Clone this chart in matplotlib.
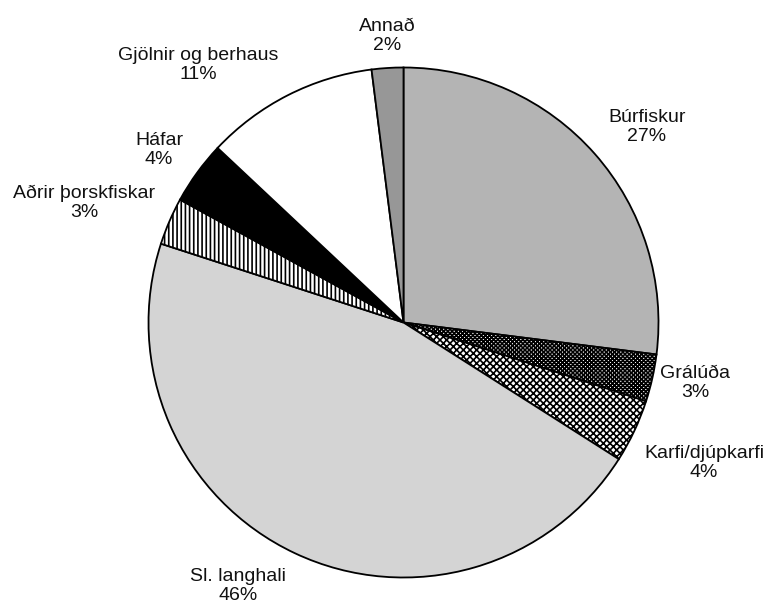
import numpy as np
import matplotlib
matplotlib.use("Agg")
import matplotlib.pyplot as plt

plt.rcParams['font.family'] = ['Liberation Sans', 'DejaVu Sans']
plt.rcParams['hatch.linewidth'] = 1.2

# data (clockwise from 12 o'clock)
categories = ["Búrfiskur", "Grálúða", "Karfi/djúpkarfi", "Sl. langhali",
              "Aðrir þorskfiskar", "Háfar", "Gjölnir og berhaus", "Annað"]
shares = [27, 3, 4, 46, 3, 4, 11, 2]

# styles
fills = ['#b4b4b4', 'white', 'white', '#d4d4d4', 'white', 'black', 'white', '#979797']
hatches = [None, 'xxxxxxxx', 'xxxxx', None, '||||', None, None, None]

# label positions in pixels (x, y from top)
label_px = [(647, 127), (695, 383), (704, 463), (238, 586),
            (84, 203), (159, 150), (198, 65), (387, 36)]

W, H = 767, 609
cx, cy, r = 403.5, 322.5, 255.0

fig = plt.figure(figsize=(W / 100, H / 100), dpi=100)
ax = fig.add_axes([0, 0, 1, 1])

wedges, _ = ax.pie(shares, startangle=90, counterclock=False, colors=fills,
                   wedgeprops=dict(edgecolor='black', linewidth=1.3),
                   frame=True)
for w, h in zip(wedges, hatches):
    if h:
        w.set_hatch(h)
ax.set_xlim(-cx / r, (W - cx) / r)
ax.set_ylim(-(H - cy) / r, cy / r)
ax.axis('off')

def px2data(px, py):
    return (px - cx) / r, (cy - py) / r

for name, pct, (px, py) in zip(categories, shares, label_px):
    x, y = px2data(px, py)
    ax.text(x, y, f"{name}\n{pct}%", ha='center', va='center',
            fontsize=14, linespacing=1.1, color='#111111')

fig.savefig("out.png", dpi=100)
